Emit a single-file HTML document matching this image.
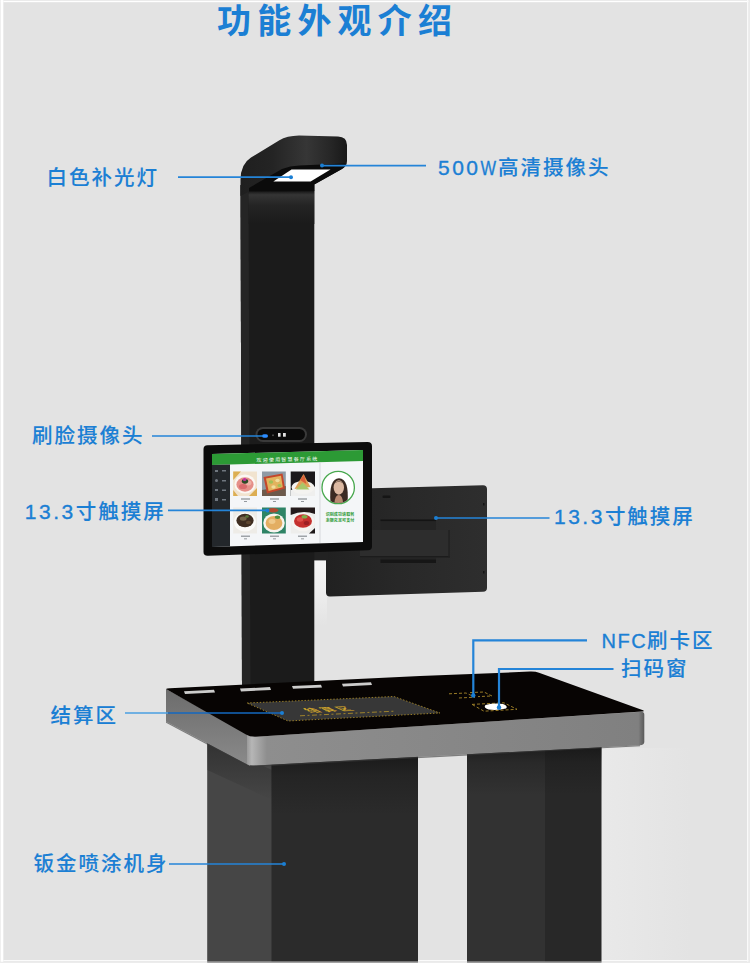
<!DOCTYPE html>
<html lang="zh-CN">
<head>
<meta charset="utf-8">
<title>功能外观介绍</title>
<style>
html,body{margin:0;padding:0;background:#e3e3e3;}
body{width:750px;height:963px;overflow:hidden;position:relative;font-family:"Liberation Sans","Noto Sans CJK SC",sans-serif;}
svg{position:absolute;left:0;top:0;display:block;}
.lbl{font-family:"Liberation Sans","Noto Sans CJK SC",sans-serif;font-weight:500;font-size:20.5px;fill:#1b7fd4;letter-spacing:2px;stroke:#1b7fd4;stroke-width:0.12px;}
.lat{font-size:21px;letter-spacing:2.5px;stroke:#1b7fd4;stroke-width:0.35px;}
.lat2{font-size:20px;letter-spacing:1.5px;stroke:#1b7fd4;stroke-width:0.35px;}
.ttl{font-family:"Liberation Sans","Noto Sans CJK SC",sans-serif;font-weight:700;font-size:34px;fill:#1b7fd4;letter-spacing:6.2px;}
.ln{stroke:#2484d8;stroke-width:1.7;fill:none;}
.dot{fill:#1b7fd4;}
</style>
</head>
<body>
<svg width="750" height="963" viewBox="0 0 750 963">
<defs>
<linearGradient id="gBandF" x1="0" y1="0" x2="1" y2="0">
<stop offset="0" stop-color="#9a9a9a"/><stop offset="0.012" stop-color="#b6b6b6"/><stop offset="0.05" stop-color="#8e8e8e"/><stop offset="0.985" stop-color="#808080"/><stop offset="1" stop-color="#5a5a5a"/>
</linearGradient>
<linearGradient id="gBandL" x1="0" y1="0" x2="0" y2="1">
<stop offset="0" stop-color="#6c6c6c"/><stop offset="1" stop-color="#8a8a8a"/>
</linearGradient>
<linearGradient id="gPoleTop" x1="0" y1="0" x2="0" y2="1">
<stop offset="0" stop-color="#0e0e0e"/><stop offset="0.14" stop-color="#353535"/><stop offset="0.45" stop-color="#242424"/><stop offset="1" stop-color="#1b1b1b"/>
</linearGradient>
<linearGradient id="gHead" x1="0" y1="0" x2="1" y2="0">
<stop offset="0" stop-color="#1f1f1f"/><stop offset="0.3" stop-color="#242424"/><stop offset="0.62" stop-color="#363636"/><stop offset="0.85" stop-color="#262626"/><stop offset="1" stop-color="#181818"/>
</linearGradient>
<linearGradient id="gLegSh" x1="0" y1="0" x2="0" y2="1">
<stop offset="0" stop-color="#141414" stop-opacity="0.75"/><stop offset="0.35" stop-color="#141414" stop-opacity="0.3"/><stop offset="1" stop-color="#141414" stop-opacity="0"/>
</linearGradient>
<linearGradient id="gLegShL" x1="0" y1="0" x2="0" y2="1">
<stop offset="0" stop-color="#202020" stop-opacity="0.55"/><stop offset="1" stop-color="#202020" stop-opacity="0"/>
</linearGradient>
<linearGradient id="gHaloR" x1="0" y1="0" x2="1" y2="0">
<stop offset="0" stop-color="#e9e9e9"/><stop offset="1" stop-color="#e3e3e3"/>
</linearGradient>
<linearGradient id="gGap" x1="0" y1="0" x2="0" y2="1">
<stop offset="0" stop-color="#f5f5f5"/><stop offset="0.5" stop-color="#eeeeee"/><stop offset="1" stop-color="#e3e3e3"/>
</linearGradient>
<linearGradient id="gPanel" x1="0" y1="0" x2="1" y2="0">
<stop offset="0" stop-color="#212121"/><stop offset="0.45" stop-color="#282828"/><stop offset="1" stop-color="#2e2e2e"/>
</linearGradient>
</defs>
<!-- background -->
<rect x="0" y="0" width="750" height="963" fill="#e3e3e3"/>
<rect x="0" y="960" width="750" height="1.3" fill="#fbfbfb"/>
<rect x="601" y="748" width="90" height="212" fill="url(#gHaloR)"/>
<rect x="314" y="556" width="13" height="70" fill="url(#gGap)"/>
<!-- SECTION: backpanel -->
<g>
<path d="M326 489.5 L483 485.2 Q487 485.2 487 489 L487 588 Q487 591.5 483 591.8 L330 596.5 Q326 596.6 326 592.5 Z" fill="url(#gPanel)"/>
<rect x="380.5" y="519.5" width="55.5" height="43.5" fill="#242424"/>
<rect x="380.5" y="519.5" width="55.5" height="1.6" fill="#141414"/>
<rect x="380.5" y="559.5" width="55.5" height="3.5" fill="#161616"/>
<rect x="360" y="530" width="89.8" height="27.5" fill="#2d2d2d"/>
<rect x="360" y="556" width="89.8" height="1.5" fill="#1c1c1c"/>
<rect x="448.3" y="530" width="1.5" height="27.5" fill="#222222"/>
<rect x="382.5" y="495.5" width="8" height="2.6" rx="1.2" fill="#151515"/>
<rect x="483" y="503" width="1.5" height="2.5" fill="#141414"/>
<rect x="483" y="571" width="1.5" height="2.5" fill="#141414"/>
<rect x="312" y="540" width="16" height="20.4" fill="#222222"/>
</g>
<!-- SECTION: pole -->
<g>
<!-- pole body -->
<path d="M240.5 185 L314.3 185 L314.3 684 L242 688 Z" fill="#1b1b1b"/>
<path d="M240.5 185 L248.5 192 L250.5 688 L242 688 Z" fill="#252525"/>
<rect x="248.5" y="190" width="65.8" height="34" fill="url(#gPoleTop)"/>
<!-- head shell -->
<path d="M240.5 196 L240.5 180 Q240.5 164 251 157.5 L279 140.5 Q287 135.8 299 135.6 L338 136.4 Q347 136.8 347 145 L347 161 Q347 166.5 341.5 169.2 L314.3 184.5 L314.3 190 L248.5 192 Z" fill="url(#gHead)"/>
<!-- underside cavity -->
<path d="M249 188 L282 169 Q290 165.8 299.3 165.6 L345.5 163.5 Q345.5 167 341.5 169.2 L314.3 184.5 L314.3 191 L249 191.5 Z" fill="#0b0b0b"/>
<!-- light -->
<path d="M273.3 181.4 L291.5 169.6 L330.5 169.6 L310.6 181.4 Z" fill="#ffffff"/>
<!-- face camera -->
<rect x="255.5" y="427" width="51.5" height="15" rx="7.5" fill="#3a3a3a"/>
<rect x="257.5" y="429" width="47.5" height="11" rx="5.5" fill="#0a0a0a"/>
<rect x="262" y="434.2" width="6" height="3.6" rx="1.8" fill="#2d8cff"/>
<rect x="272" y="434.5" width="2" height="1.6" fill="#444444"/>
<rect x="278" y="433" width="2.6" height="3.7" fill="#e2e2e2"/>
<rect x="283" y="433" width="2.8" height="3.7" fill="#e2e2e2"/>
</g>
<!-- SECTION: screen -->
<g>
<!-- bezel -->
<path d="M203.5 449 Q203.5 445.3 207.5 445.2 L367.5 442 Q372 442 372 446 L372 546.5 Q372 550 368 550.2 L208 555.8 Q203.5 556 203.5 552 Z" fill="#0c0c0c"/>
<!-- display -->
<path d="M212 454 L363 450 L363 542 L212 547 Z" fill="#f4f6f8"/>
<!-- green header -->
<path d="M212 454 L363 450 L363 461 L212 465 Z" fill="#2c9a35"/>
<text x="287.5" y="461.3" text-anchor="middle" font-family="'Liberation Sans','Noto Sans CJK SC',sans-serif" font-size="5" fill="#ffffff" letter-spacing="1.2" transform="rotate(-1.5 287.5 459)">欢迎使用智慧餐厅系统</text>
<!-- sidebar -->
<path d="M212 465 L230 464.5 L230 546.4 L212 547 Z" fill="#23272b"/>
<g fill="#6f767e">
<rect x="215" y="470" width="3" height="2"/><rect x="222" y="470" width="4" height="1.5"/>
<rect x="215" y="479" width="3" height="3" rx="1.5"/><rect x="222" y="480" width="4" height="1.5"/>
<rect x="215" y="489" width="3" height="2"/><rect x="222" y="489.5" width="4" height="1.5"/>
<rect x="215" y="498" width="3" height="3"/><rect x="222" y="499" width="4" height="1.5"/>
</g>
<!-- divider -->
<rect x="319.5" y="462" width="1" height="81" fill="#d5d8db"/>
<!-- food tiles row 1 -->
<rect x="233.2" y="471.5" width="23.8" height="24.5" fill="#f1e3cf"/>
<path d="M233.2 471.5 L241 471.5 L233.2 480 Z M257 496 L249 496 L257 488 Z M233.2 496 L233.2 490 L238 496 Z" fill="#dcae52"/>
<ellipse cx="245" cy="484" rx="10.6" ry="9.6" fill="#fbf7f3"/><ellipse cx="245" cy="484.5" rx="8.6" ry="7.2" fill="#e58f88"/><ellipse cx="243" cy="486.5" rx="4" ry="2.6" fill="#d96a6c"/><ellipse cx="248.5" cy="483" rx="3" ry="2.4" fill="#efb0a6"/>
<ellipse cx="245" cy="481.3" rx="3.2" ry="2.4" fill="#2f4a28"/><ellipse cx="244.6" cy="479.6" rx="1.8" ry="1.5" fill="#c22fa0"/>
<rect x="262" y="471.5" width="23.8" height="24.5" fill="#8f9aa4"/>
<path d="M262 490 L285.8 486 L285.8 496 L262 496 Z" fill="#6d5a4c"/>
<path d="M263.5 477 L282.5 473.5 L285 488.5 L267 493.5 Z" fill="#c4472b"/><path d="M266 478.6 L281 475.8 L282.8 487.2 L268.6 491 Z" fill="#e2b35e"/>
<ellipse cx="271" cy="482" rx="2.2" ry="1.8" fill="#9fbf58"/><ellipse cx="277.5" cy="480.5" rx="2.2" ry="1.8" fill="#f0dc9a"/><ellipse cx="273.5" cy="487" rx="2.2" ry="1.7" fill="#f0dc9a"/><ellipse cx="279.5" cy="485.5" rx="2" ry="1.6" fill="#9fbf58"/>
<rect x="290.7" y="471.5" width="24.3" height="24.5" fill="#1a181b"/>
<path d="M290.7 490 L315 486.5 L315 496 L290.7 496 Z" fill="#efefee"/>
<ellipse cx="303" cy="487.5" rx="11.4" ry="6.6" fill="#f4f3f0"/><path d="M294.5 489 L303.5 474 L310.5 487 Z" fill="#e0a257"/><path d="M300 480 L304 474.5 L306.5 484 Z" fill="#d9603a"/><path d="M296 489.5 L302.5 482.5 L309.5 489.5 Z" fill="#a9c769"/>
<!-- food tiles row 2 -->
<rect x="233.2" y="507.5" width="23.8" height="26" fill="#eeece7"/>
<ellipse cx="245" cy="522" rx="11" ry="9.6" fill="#fbfbf9"/><ellipse cx="245" cy="520.5" rx="8.6" ry="6.8" fill="#3f2e22"/><ellipse cx="243.2" cy="518.6" rx="3.4" ry="2.2" fill="#75654a"/><ellipse cx="248.5" cy="522.5" rx="2.6" ry="1.8" fill="#5d4630"/><ellipse cx="247" cy="516.5" rx="1.8" ry="1.2" fill="#5b7a3a"/>
<rect x="262" y="507.5" width="23.8" height="26" fill="#2f8466"/>
<ellipse cx="274" cy="523" rx="10.8" ry="9.4" fill="#f8f5ef"/><ellipse cx="274" cy="523" rx="8.4" ry="7" fill="#e3ae62"/><ellipse cx="272" cy="521.5" rx="3.4" ry="2.4" fill="#efc98a"/><ellipse cx="277.5" cy="517.2" rx="2.8" ry="1.8" fill="#4f8f3e"/>
<ellipse cx="273" cy="510.2" rx="5.5" ry="2.2" fill="#b14a30"/>
<rect x="290.7" y="507.5" width="24.3" height="26" fill="#eeeeec"/>
<path d="M290.7 507.5 L315 507.5 L315 514 Q303 509.5 290.7 515 Z" fill="#241a1b"/>
<path d="M315 528 L315 533.5 L309 533.5 Z" fill="#1d1819"/>
<ellipse cx="303" cy="522" rx="11.6" ry="9.2" fill="#f6f4f1"/><ellipse cx="303" cy="521" rx="9" ry="6.8" fill="#c5302e"/><ellipse cx="300" cy="519.5" rx="3.2" ry="2.2" fill="#e0524a"/><ellipse cx="306.5" cy="523" rx="2.8" ry="2" fill="#9e2024"/><ellipse cx="304.5" cy="516.8" rx="3" ry="1.8" fill="#7fae4a"/>
<!-- captions -->
<g fill="#8a8f94">
<rect x="241" y="498.4" width="9" height="1.2"/><rect x="244" y="501" width="3" height="0.9"/>
<rect x="270" y="498.4" width="9" height="1.2"/><rect x="273" y="501" width="3" height="0.9"/>
<rect x="298" y="498.4" width="9" height="1.2"/><rect x="301" y="501" width="3" height="0.9"/>
<rect x="241" y="535.6" width="9" height="1.2"/><rect x="244" y="538.4" width="3" height="0.9"/>
<rect x="270" y="535.6" width="9" height="1.2"/><rect x="273" y="538.4" width="3" height="0.9"/>
<rect x="298" y="535.6" width="9" height="1.2"/><rect x="301" y="538.4" width="3" height="0.9"/>
</g>
<!-- face -->
<circle cx="338.2" cy="487.5" r="16.2" fill="#ffffff" stroke="#48a84e" stroke-width="1.3"/>
<clipPath id="cpFace"><circle cx="338.2" cy="487.5" r="15.5"/></clipPath>
<g clip-path="url(#cpFace)">
<path d="M330.5 503 Q328.5 479 339 478.3 Q349.5 479 347.5 503 Z" fill="#3a2a22"/>
<ellipse cx="338.8" cy="487.5" rx="5.2" ry="7.2" fill="#dcb9a2"/>
<path d="M334 483.5 Q338.8 480 343.8 483.5 Q342 481.5 338.8 481.3 Q335.5 481.5 334 483.5 Z" fill="#3a2a22"/>
<path d="M334.5 503 Q335 495 338.8 495 Q342.5 495 343 503 Z" fill="#b98a72"/>
</g>
<!-- green text -->
<text x="340" y="516" text-anchor="middle" font-family="'Liberation Sans','Noto Sans CJK SC',sans-serif" font-size="4" font-weight="700" fill="#2c9a35" letter-spacing="0.1">识别成功请取餐</text>
<text x="340" y="522" text-anchor="middle" font-family="'Liberation Sans','Noto Sans CJK SC',sans-serif" font-size="4" font-weight="700" fill="#2c9a35" letter-spacing="0.1">余额充足可支付</text>
</g>
<!-- SECTION: table -->
<g>
<!-- left leg -->
<rect x="207.2" y="740" width="64.8" height="222" fill="#464646"/>
<rect x="271.5" y="755" width="146.5" height="207" fill="#2b2b2b"/>
<rect x="271.5" y="755" width="146.5" height="60" fill="url(#gLegSh)"/>
<path d="M207.2 740 L272 770 L272 800 L207.2 770 Z" fill="url(#gLegShL)"/>
<!-- right leg -->
<rect x="467" y="745" width="78.5" height="217" fill="#323232"/>
<rect x="545" y="740" width="56.5" height="222" fill="#282828"/>
<rect x="467" y="745" width="134.5" height="50" fill="url(#gLegSh)"/>
<!-- left band -->
<path d="M166 689 L250 735 L250 766 L166 721.5 Z" fill="url(#gBandL)"/>
<!-- front band -->
<path d="M247 733.5 Q250 736.8 256 736.7 L640 711.8 Q644.3 711.3 644.3 714.5 L644.3 742 Q644.3 745 640 745.3 L256 765.4 Q250 765.8 247 764.3 Z" fill="url(#gBandF)"/>
<path d="M166 721.5 L250 766 L256 765.4 L640 745.3 L640 746.3 L256 766.8 L250 767.3 L166 722.8 Z" fill="#3a3a3a" opacity="0.6"/>
<!-- top surface -->
<path d="M166 689 Q166.5 688.3 170 688.2 L420 676 L530 671.6 Q535.5 671.4 539 672.8 L643 710.3 Q644.8 711.2 642 711.6 L256 736.7 Q250 737 246 734.5 Z" fill="#070403"/>
<!-- white tags -->
<g fill="#efefef" opacity="0.85">
<path d="M184 691.2 L214 689.7 L215 692.5 L185 694 Z"/>
<path d="M240 688.6 L270 687.1 L271 689.9 L241 691.4 Z"/>
<path d="M292 686 L321 684.7 L322 687.4 L293 688.8 Z"/>
<path d="M342 683.7 L371 682.3 L372 685 L343 686.4 Z"/>
</g>
<!-- settlement zone -->
<path d="M247 703 L394 696.5 L440 713 L288 721 Z" fill="#373737" stroke="#b8962a" stroke-width="0.8" stroke-dasharray="1.4 1.8"/>
<text x="0" y="0" transform="matrix(1 -0.045 0.9 0.42 310 712.4)" font-family="'Liberation Sans','Noto Sans CJK SC',sans-serif" font-size="12.5" font-weight="700" fill="#c9a02c" letter-spacing="3.5">结算区</text>
<path d="M300 715.8 L394 711.2" stroke="#b8962a" stroke-width="0.8" stroke-dasharray="5 2.5 2 2.5" fill="none"/>
<!-- NFC mark -->
<path d="M449 693.8 L466 693 L475 697.2 L458 698" stroke="#a8882a" stroke-width="0.9" stroke-dasharray="3 2" fill="none"/>
<path d="M470 692.6 L484 692 L492 696 L478 696.6" stroke="#a8882a" stroke-width="0.9" stroke-dasharray="3 2" fill="none"/>
<!-- scan window -->
<path d="M472 704.4 L504 702.8 L517 709.3 L484 711.2 Z" stroke="#a8882a" stroke-width="0.9" stroke-dasharray="3 2" fill="none"/>
<path d="M485.5 705 Q494 702.8 503 704 Q508.5 706 506 708.6 Q497 710.8 488.5 709.6 Q483 707.6 485.5 705 Z" fill="#ffffff"/>
</g>
<!-- SECTION: labels -->
<g>
<text class="ttl" x="217" y="33">功能外观介绍</text>
<!-- lines -->
<path class="ln" d="M178 177.2 L291 177.2"/><circle class="dot" cx="291" cy="177.2" r="2"/>
<path class="ln" d="M322 165.6 L426 165.6"/><circle class="dot" cx="322" cy="165.6" r="2"/>
<path class="ln" d="M152 436 L263 436"/>
<path class="ln" d="M168 510.4 L267.5 510.4"/><circle class="dot" cx="267.5" cy="510.4" r="2"/>
<path class="ln" d="M436 518 L549.5 518"/><circle class="dot" cx="436" cy="518" r="2"/>
<path class="ln" d="M587 640.4 L473.3 640.4 L473.3 695" style="stroke-width:2.2"/><circle class="dot" cx="473.3" cy="695.5" r="2.2"/>
<path class="ln" d="M613.5 669 L499 669 L499 707" style="stroke-width:2.2"/><circle class="dot" cx="499" cy="707.5" r="2.2"/>
<path class="ln" d="M125 713 L168 713" style="stroke:#4a9fe2"/><path class="ln" d="M168 713 L282 713" style="stroke:#1568c0"/><circle class="dot" cx="282" cy="713" r="2"/>
<path class="ln" d="M169 864 L284 864"/><circle class="dot" cx="284" cy="864" r="2"/>
<!-- texts -->
<text class="lbl" x="46.5" y="185">白色补光灯</text>
<text class="lbl" x="438" y="175"><tspan class="lat">500</tspan><tspan class="lat" textLength="17.5" lengthAdjust="spacingAndGlyphs">W</tspan>高清摄像头</text>
<text class="lbl" x="32" y="443">刷脸摄像头</text>
<text class="lbl" x="24.8" y="519.3"><tspan class="lat">13.3</tspan>寸触摸屏</text>
<text class="lbl" x="554" y="524.3"><tspan class="lat">13.3</tspan>寸触摸屏</text>
<text class="lbl" x="601.5" y="648"><tspan class="lat2">NFC</tspan>刷卡区</text>
<text class="lbl" x="621" y="675.5">扫码窗</text>
<text class="lbl" x="50.5" y="723">结算区</text>
<text class="lbl" x="33.5" y="871">钣金喷涂机身</text>
</g>
<!-- SECTION: frame -->
<g>
<rect x="0" y="0" width="750" height="1" fill="#ebebeb"/>
<rect x="0" y="1" width="750" height="1.2" fill="#ffffff"/>
<rect x="0" y="0" width="0.9" height="963" fill="#f0f0f0"/>
<rect x="0.9" y="0" width="2.3" height="963" fill="#ffffff"/>
<rect x="3.2" y="0" width="0.5" height="963" fill="#f0f0f0"/>
<rect x="747" y="0" width="1.5" height="963" fill="#fafafa"/>
<rect x="748.5" y="0" width="1.5" height="963" fill="#ebebeb"/>
<rect x="0" y="961.7" width="750" height="1.3" fill="#ececec"/>
<rect x="207.2" y="961.7" width="210.8" height="1.3" fill="#a2a2a2"/>
<rect x="467" y="961.7" width="134.5" height="1.3" fill="#9a9a9a"/>
</g>
</svg>
</body>
</html>
